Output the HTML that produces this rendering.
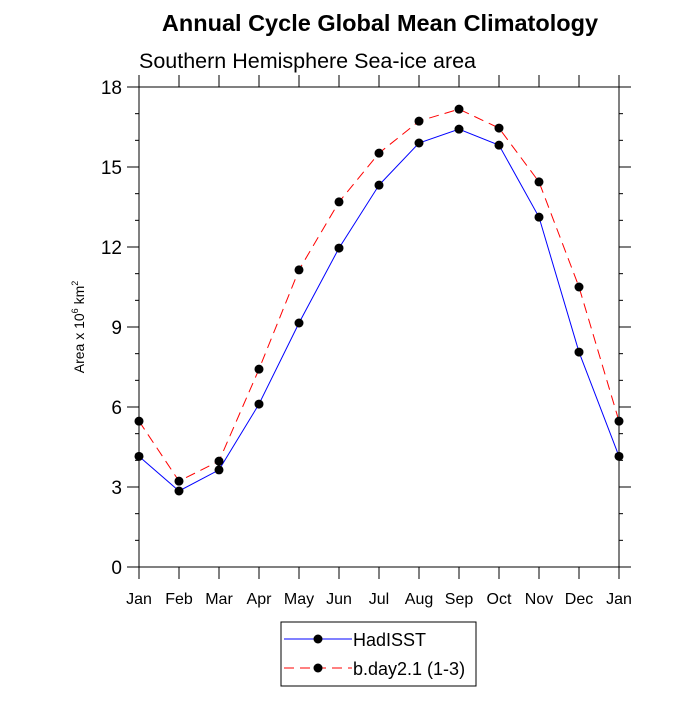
<!DOCTYPE html>
<html><head><meta charset="utf-8"><style>
body{margin:0;background:#fff}
svg text{font-family:"Liberation Sans",sans-serif}
</style></head><body>
<svg id="c" width="700" height="700" xmlns="http://www.w3.org/2000/svg">
<text x="380" y="31" text-anchor="middle" font-size="23.5" font-weight="bold">Annual Cycle Global Mean Climatology</text>
<text x="139" y="68" font-size="21.5">Southern Hemisphere Sea-ice area</text>
<text transform="translate(84,327) rotate(-90)" text-anchor="middle" font-size="14">Area x 10<tspan font-size="9" dy="-6">6</tspan><tspan dy="6"> km</tspan><tspan font-size="9" dy="-6">2</tspan></text>
<g id="axes"></g><g id="series"></g>
<g>
<rect x="281" y="622" width="195" height="64" fill="#fff" stroke="#000"/>
<g>
<line x1="284" y1="639" x2="352" y2="639" stroke="#00f" stroke-width="1"/>
<circle cx="318" cy="639" r="4.5"/>
<text x="353" y="646" font-size="18">HadISST</text></g>
<g>
<line x1="284" y1="668" x2="352" y2="668" stroke="#f00" stroke-width="1" stroke-dasharray="10,6"/>
<circle cx="318" cy="668" r="4.5"/>
<text x="353" y="675" font-size="18">b.day2.1 (1-3)</text></g>
</g>
</svg>
<script>
const months=["Jan","Feb","Mar","Apr","May","Jun","Jul","Aug","Sep","Oct","Nov","Dec","Jan"];
const hadisst=[4.15,2.85,3.64,6.11,9.15,11.96,14.32,15.9,16.42,15.82,13.12,8.06,4.15];
const bday=[5.47,3.22,3.97,7.42,11.14,13.69,15.52,16.72,17.17,16.46,14.44,10.5,5.47];
const yTicks=[0,3,6,9,12,15,18];
const X0=139,X1=619,Y0=567,Y1=87;
const xs=i=>X0+(X1-X0)*i/12;
const ys=v=>Y0-(Y0-Y1)*v/18;
const NS="http://www.w3.org/2000/svg";
function mk(t,a,p){const e=document.createElementNS(NS,t);for(const k in a)e.setAttribute(k,a[k]);p.appendChild(e);return e;}
const ax=document.getElementById('axes');
const fr=mk('rect',{x:X0,y:Y1,width:X1-X0,height:Y0-Y1,fill:'none',stroke:'#000','stroke-width':1},ax);


for(let v=0;v<=18;v++){const y=ys(v);const L=v%3===0?12:4;
mk('line',{x1:X0-L,y1:y,x2:X0,y2:y,stroke:'#000'},ax);
mk('line',{x1:X1,y1:y,x2:X1+L,y2:y,stroke:'#000'},ax);}
yTicks.forEach(v=>{const t=mk('text',{x:X0-17,y:ys(v)+7,'text-anchor':'end','font-size':19},ax);t.textContent=v;

});
months.forEach((m,i)=>{const x=xs(i);
mk('line',{x1:x,y1:Y0,x2:x,y2:Y0+12,stroke:'#000'},ax);
mk('line',{x1:x,y1:Y1-12,x2:x,y2:Y1,stroke:'#000'},ax);
const t=mk('text',{x:x,y:Y0+37,'text-anchor':'middle','font-size':16},ax);t.textContent=m;

});
const sg=document.getElementById('series');
function series(d,col,dash,name){const g=mk('g',{},sg);


mk('polyline',{points:d.map((v,i)=>xs(i)+','+ys(v)).join(' '),fill:'none',stroke:col,'stroke-width':1,'stroke-dasharray':dash},g);
d.forEach((v,i)=>mk('circle',{cx:xs(i),cy:ys(v),r:4.5,fill:'#000'},g));}
series(hadisst,'#00f','none','series-hadisst');
series(bday,'#f00','10,6','series-bday');
</script>
</body></html>
